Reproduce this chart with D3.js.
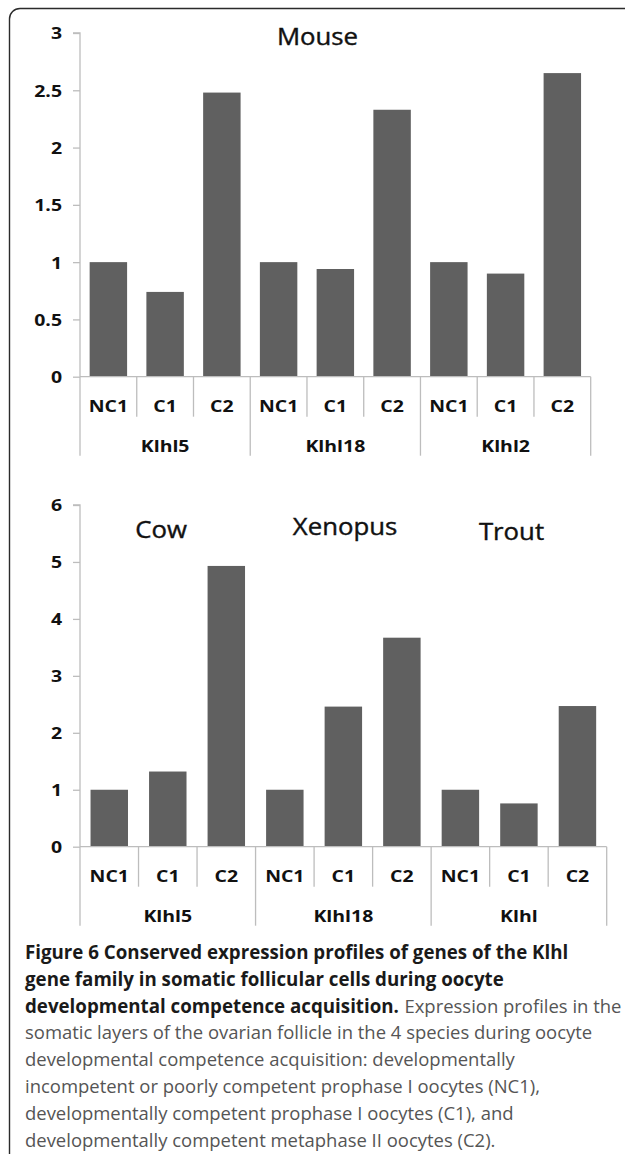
<!DOCTYPE html>
<html>
<head>
<meta charset="utf-8">
<script src="https://cdn.jsdelivr.net/npm/d3@7"></script>
<style>
  html, body { margin: 0; padding: 0; background: #fff; }
  svg { display: block; }
</style>
</head>
<body>
<svg id="fig" width="625" height="1154"></svg>
<script>
// ---------------- data ----------------
const conditions = ["NC1", "C1", "C2"];

const mouseTitle = "Mouse";
const mouseGenes = ["Klhl5", "Klhl18", "Klhl2"];
const mouseKlhl5 = [1.00, 0.74, 2.48];
const mouseKlhl18 = [1.00, 0.94, 2.33];
const mouseKlhl2 = [1.00, 0.90, 2.65];
const mouseTicks = [0, 0.5, 1, 1.5, 2, 2.5, 3];

const speciesTitles = ["Cow", "Xenopus", "Trout"];
const speciesGenes = ["Klhl5", "Klhl18", "Klhl"];
const cowKlhl5 = [1.00, 1.32, 4.93];
const xenopusKlhl18 = [1.00, 2.46, 3.67];
const troutKlhl = [1.00, 0.76, 2.47];
const speciesTicks = [0, 1, 2, 3, 4, 5, 6];

const captionBold = [
  "Figure 6 Conserved expression profiles of genes of the Klhl",
  "gene family in somatic follicular cells during oocyte",
  "developmental competence acquisition."
];
const captionNormal = [
  "Expression profiles in the",
  "somatic layers of the ovarian follicle in the 4 species during oocyte",
  "developmental competence acquisition: developmentally",
  "incompetent or poorly competent prophase I oocytes (NC1),",
  "developmentally competent prophase I oocytes (C1), and",
  "developmentally competent metaphase II oocytes (C2)."
];

// ---------------- drawing ----------------
const svg = d3.select("#fig");
const FONT = "'Open Sans', 'DejaVu Sans', sans-serif";
const SX = 1.18;           // horizontal stretch of the chart lettering
const AXIS = "#bdbdbd";
const BAR = "#606060";

// frame
svg.append("path")
  .attr("d", "M9.5,1154 L9.5,19 A10.5,10.5 0 0 1 20,8.5 L625,8.5")
  .attr("fill", "none").attr("stroke", "#2b2b2b").attr("stroke-width", 1.4);

function drawPanel(cfg) {
  const { x0, x1, yTop, yZero, domainMax, ticks, genes, series, pad } = cfg;
  const keys = [];
  const rows = [];
  genes.forEach((g, gi) => conditions.forEach((c, ci) => {
    keys.push(g + "|" + c);
    rows.push({ key: g + "|" + c, gene: g, cond: c, value: series[gi][ci], gi, ci });
  }));

  const x = d3.scaleBand().domain(keys).range([x0, x1]).paddingInner(pad).paddingOuter(pad / 2);
  const y = d3.scaleLinear().domain([0, domainMax]).range([yZero, yTop]);
  const g = svg.append("g");

  // bars
  g.selectAll("rect.bar").data(rows).enter().append("rect")
    .attr("class", "bar")
    .attr("x", d => x(d.key))
    .attr("width", x.bandwidth())
    .attr("y", d => y(d.value))
    .attr("height", d => yZero - y(d.value))
    .attr("fill", BAR);

  // y axis
  const ax = g.append("g").attr("transform", `translate(${x0},0)`)
    .call(d3.axisLeft(y).tickValues(ticks).tickSize(7).tickPadding(11)
      .tickFormat(d => d3.format("")(d)));
  ax.select(".domain").attr("stroke", AXIS).attr("stroke-width", 1.3)
    .attr("d", `M-7,${yTop}H0V${yZero}`);
  ax.selectAll(".tick line").attr("stroke", AXIS).attr("stroke-width", 1.3);
  ax.selectAll(".tick text")
    .attr("font-family", FONT).attr("font-weight", "bold").attr("font-size", 16.5)
    .attr("fill", "#111")
    .attr("x", -18 / SX).attr("dy", "0.36em")
    .attr("transform", `scale(${SX},1)`);

  // x axis baseline
  g.append("line").attr("x1", x0).attr("x2", x1).attr("y1", yZero).attr("y2", yZero)
    .attr("stroke", AXIS).attr("stroke-width", 1.3);

  // category separators (table lines)
  const step = x.step();
  const bounds = d3.range(keys.length + 1);
  g.selectAll("line.sep").data(bounds).enter().append("line")
    .attr("class", "sep")
    .attr("x1", i => x0 + i * step).attr("x2", i => x0 + i * step)
    .attr("y1", yZero)
    .attr("y2", i => (i % 3 === 0) ? yZero + 79 : yZero + 40)
    .attr("stroke", AXIS).attr("stroke-width", 1.3);

  // category labels
  g.selectAll("text.cat").data(rows).enter().append("text")
    .attr("class", "cat")
    .attr("transform", d => `translate(${x(d.key) + x.bandwidth() / 2},${yZero + 35}) scale(${SX},1)`)
    .attr("text-anchor", "middle")
    .attr("font-family", FONT).attr("font-weight", "bold").attr("font-size", 16.5)
    .attr("fill", "#111")
    .text(d => d.cond);

  // gene labels
  g.selectAll("text.gene").data(genes).enter().append("text")
    .attr("class", "gene")
    .attr("transform", (d, i) => `translate(${x0 + (i * 3 + 1.5) * step},${yZero + 75}) scale(${SX},1)`)
    .attr("text-anchor", "middle")
    .attr("font-family", FONT).attr("font-weight", "bold").attr("font-size", 16.5)
    .attr("fill", "#111")
    .text(d => d);

  // titles
  g.selectAll("text.title").data(cfg.titles).enter().append("text")
    .attr("class", "title")
    .attr("transform", d => `translate(${d.x},${d.y}) scale(1.12,1)`)
    .attr("text-anchor", "middle")
    .attr("font-family", FONT).attr("font-weight", "normal").attr("font-size", 23)
    .attr("fill", "#111").attr("stroke", "#111").attr("stroke-width", 0.4)
    .text(d => d.text);
}

drawPanel({
  x0: 80, x1: 590.7, yTop: 33, yZero: 376.7, domainMax: 3, ticks: mouseTicks,
  genes: mouseGenes, series: [mouseKlhl5, mouseKlhl18, mouseKlhl2], pad: 0.34,
  titles: [{ text: mouseTitle, x: 317.5, y: 45 }]
});

drawPanel({
  x0: 80, x1: 606.7, yTop: 505, yZero: 846.7, domainMax: 6, ticks: speciesTicks,
  genes: speciesGenes, series: [cowKlhl5, xenopusKlhl18, troutKlhl], pad: 0.36,
  titles: [
    { text: speciesTitles[0], x: 161, y: 538 },
    { text: speciesTitles[1], x: 345, y: 535 },
    { text: speciesTitles[2], x: 511.5, y: 540 }
  ]
});

// caption
const capX = 25, capY0 = 959, capDY = 26.8;
const cap = svg.append("g").attr("font-family", FONT);

function fitSize(text, weight, target) {
  const t = svg.append("text").attr("font-family", FONT).attr("font-weight", weight)
    .attr("font-size", 100).text(text);
  const w = t.node().getComputedTextLength();
  t.remove();
  return 100 * target / w;
}
// target widths of the lines as they appear in the figure
const boldTargets = [552, 478, 369];
const normTargets = [211, 573, 489, 520, 492, 473];
const boldSize = d3.mean(captionBold.map((l, i) => fitSize(l, "bold", boldTargets[i])));
const normSize = d3.mean(captionNormal.map((l, i) => fitSize(l, "normal", normTargets[i])));

let lastBold = null;
captionBold.forEach((line, i) => {
  lastBold = cap.append("text").attr("x", capX).attr("y", capY0 + i * capDY)
    .attr("font-size", boldSize).attr("font-weight", "bold").attr("fill", "#1a1a1a")
    .text(line);
});
// normal text that continues the third line
const contX = capX + lastBold.node().getComputedTextLength() + normSize * 0.3;
cap.append("text").attr("x", contX).attr("y", capY0 + 2 * capDY)
  .attr("font-size", normSize).attr("font-weight", "normal").attr("fill", "#555")
  .text(captionNormal[0]);
captionNormal.slice(1).forEach((line, i) => {
  cap.append("text").attr("x", capX).attr("y", capY0 + (i + 3) * capDY)
    .attr("font-size", normSize).attr("font-weight", "normal").attr("fill", "#555")
    .text(line);
});
</script>
</body>
</html>
